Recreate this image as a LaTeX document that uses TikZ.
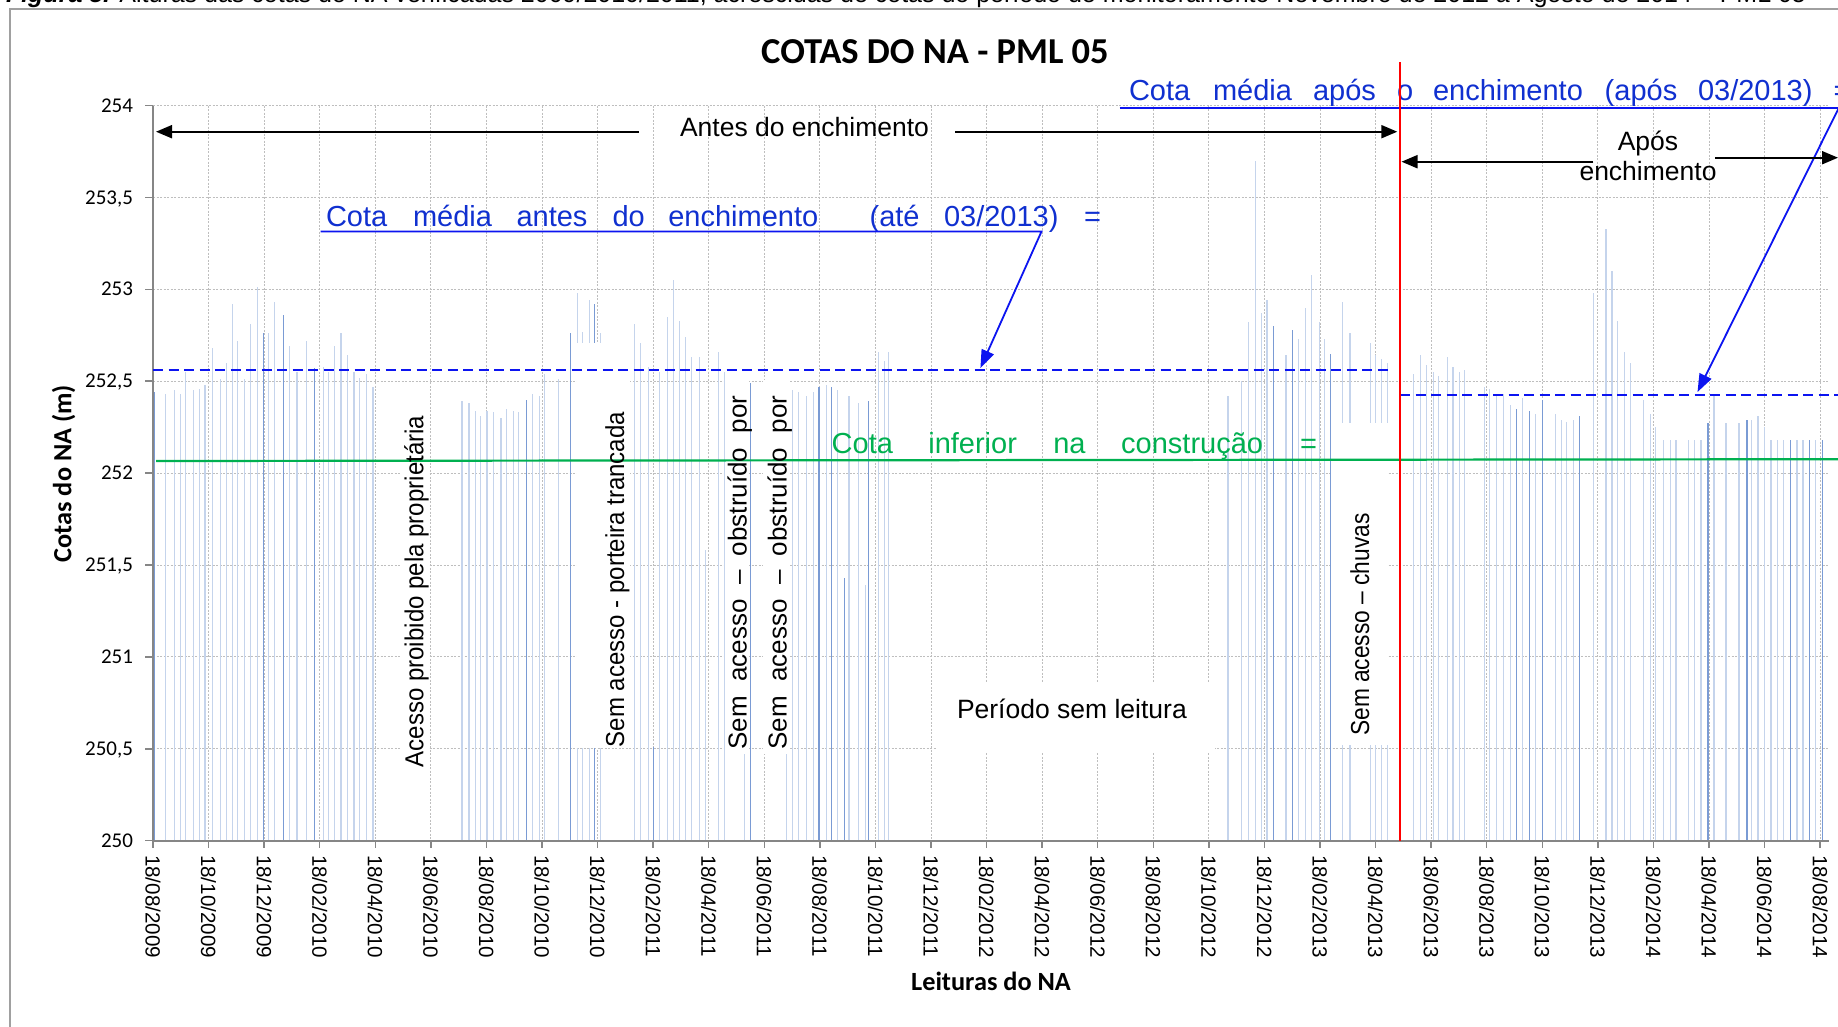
\documentclass[tikz,border=0pt]{standalone}
\usepackage{fontspec}
\usepackage{graphicx}
\setmainfont{Liberation Sans}
\newfontfamily\calib{Carlito}
\usetikzlibrary{arrows.meta}

\definecolor{gridc}{RGB}{190,190,190}
\definecolor{axisc}{RGB}{134,134,134}
\definecolor{framec}{RGB}{160,160,160}
\definecolor{barL}{RGB}{197,212,236}
\definecolor{barD}{RGB}{122,155,212}
\definecolor{txtblue}{RGB}{16,48,208}
\definecolor{lineblue}{RGB}{12,20,240}
\definecolor{grn}{RGB}{0,176,80}

\newcommand\fNote{\fontsize{26.5pt}{30pt}\selectfont}
\newcommand\fVert{\fontsize{26pt}{30pt}\selectfont}
\newcommand\fBig{\fontsize{29pt}{33pt}\selectfont}
\newcommand\fDate{\fontsize{20.6pt}{24pt}\selectfont}
\newcommand\fTick{\calib\fontsize{21pt}{24pt}\selectfont}
\newcommand\fTitle{\calib\bfseries\fontsize{36.5pt}{40pt}\selectfont}
\newcommand\fAxis{\calib\bfseries\fontsize{26.3pt}{30pt}\selectfont}
\newcommand\fCap{\fontsize{20pt}{24pt}\selectfont}

\begin{document}
\begin{tikzpicture}[x=1pt,y=-1pt,
  gridl/.style={draw=gridc, line width=0.9pt, dash pattern=on 2pt off 1.5pt},
  barl/.style={draw=barL, line width=1.3pt},
  bard/.style={draw=barD, line width=1.3pt},
  avg/.style={draw=lineblue, line width=2pt, dash pattern=on 10pt off 5.5pt},
  blkarrow/.style={draw=black, line width=2pt, -{Triangle[length=16pt,width=13pt]}},
  bluarrow/.style={draw=lineblue, line width=1.8pt, -{Triangle[length=18pt,width=13pt]}},
  wbox/.style={fill=white},
  txt/.style={inner sep=0pt, outer sep=0pt},
  bw/.style={txt, font=\fBig, text=txtblue, anchor=base west},
  gw/.style={txt, font=\fBig, text=grn, anchor=base west},
  note/.style={txt, font=\fNote},
  vnote/.style={txt, font=\fVert, rotate=90, anchor=base},
  datelab/.style={txt, font=\fDate, rotate=-90, anchor=west},
  ticklab/.style={txt, font=\fTick, anchor=base east},
]
\useasboundingbox (0,0) rectangle (1838,1026);
\fill[white] (0,0) rectangle (1838,1026);

% caption (cut off at the top)
\node[txt, anchor=base west, font=\fCap] (caption) at (6,2)
  {\resizebox{1800pt}{!}{\textbf{\textit{Figura 5.}} Alturas das cotas do NA verificadas 2009/2010/2011, acrescidas de cotas do período de monitoramento Novembro de 2012 a Agosto de 2014 -- PML 05}};

% frame
\draw[framec, line width=1.5pt] (10,1030) -- (10,9) -- (1842,9);

% grid
\foreach \k in {1,...,8}
  \draw[gridl] (153,{840.7-\k*91.9}) -- (1829,{840.7-\k*91.9});
\foreach \i in {1,...,30}
  \draw[gridl] ({153+55.57*\i},105.5) -- ({153+55.57*\i},840.7);

% bars (light)
\foreach \X/\V in {165.3/252.43, 174.3/252.45, 180.3/252.43, 185.7/252.55, 193.3/252.45, 199.3/252.46, 205/252.48, 212.3/252.68, 220.3/252.51, 226.7/252.60, 232.7/252.92, 237.7/252.72, 244.3/252.51, 250.3/252.81, 257.3/253.01, 268.3/252.76, 274.7/252.93, 289.3/252.69, 297/252.55, 306.7/252.72, 323.3/252.58, 328.3/252.55, 334.3/252.69, 341/252.76, 347.7/252.64, 354/252.55, 359.3/252.52, 366.7/252.54, 373/252.47,
462/252.39, 469/252.38, 475.3/252.34, 480.3/252.31, 487/252.34, 493.3/252.33, 501/252.30, 506.7/252.35, 513.3/252.34, 518.3/252.33, 532.3/252.43, 539.3/252.42, 544.3/252.54, 558.3/252.51, 577.3/252.98, 582.7/252.77, 589.3/252.94, 600.7/252.76,
634.3/252.81, 640.3/252.71, 648.3/252.58, 659.7/252.55, 667.3/252.85, 673.3/253.05, 679.3/252.83, 685.3/252.74, 691.3/252.63, 699.3/252.63, 705.7/251.58, 718.3/252.66, 724.3/252.55, 744.3/250.49, 786.7/252.49, 792.7/252.45, 798.3/252.44, 806.7/252.42, 813.3/252.44, 826.7/252.48, 837.3/252.45, 849/252.42, 858.7/252.38, 865.7/251.39, 878.3/252.66, 884.3/252.61, 888.3/252.66,
1228/252.42, 1241.2/252.5, 1248.7/252.82, 1255.3/253.70, 1261.4/252.87, 1267.1/252.94, 1285.9/252.64, 1298.6/252.73, 1305.6/252.90, 1311.3/253.08, 1319.3/252.82, 1324.5/252.73, 1342.4/252.93, 1349.9/252.76, 1370.6/252.71, 1375.3/252.64, 1381.4/252.62, 1387.5/252.60,
1413.4/252.54, 1420.5/252.64, 1426.6/252.59, 1433.2/252.55, 1438.4/252.53, 1447.3/252.63, 1452.9/252.58, 1459.5/252.55, 1464.2/252.56, 1484.5/252.47, 1489.6/252.46, 1496.2/252.42, 1503.3/252.43, 1510.4/252.37, 1522.6/252.41, 1535.3/252.32, 1555.5/252.32, 1561.2/252.29, 1566.8/252.28, 1573.4/252.29, 1593.2/252.98, 1605.9/253.33, 1612/253.10, 1617.6/252.83, 1624.2/252.66, 1630.8/252.60, 1643.5/252.40, 1650.6/252.32, 1655.8/252.25, 1663.8/252.18, 1670.4/252.18, 1676/252.18, 1688.7/252.18, 1694.8/252.18, 1700.9/252.18, 1714.1/252.43, 1725.9/252.27, 1739.1/252.27, 1751.8/252.29, 1757.9/252.31, 1764.5/252.25, 1771.1/252.18, 1777.6/252.18, 1783.8/252.18, 1797/252.18, 1803.1/252.18, 1815.8/252.18}
  \draw[barl] (\X,840.7) -- (\X,{840.7-(\V-250)*183.8});
% bars (dark)
\foreach \X/\V in {154.7/252.44, 263.7/252.76, 283.7/252.86, 314.3/252.57, 526.3/252.40, 570.3/252.76, 594.7/252.92, 653.7/250.51, 750.3/252.49, 819/252.47, 831.3/252.47, 844.3/251.43, 868.7/252.39, 1273.6/252.80, 1292.5/252.78, 1330.6/252.65, 1516.5/252.35, 1529.2/252.34, 1542.4/252.40, 1579.5/252.31, 1708/252.27, 1747.1/252.29, 1790.8/252.18, 1809.2/252.18, 1822.4/252.18}
  \draw[bard] (\X,840.7) -- (\X,{840.7-(\V-250)*183.8});

% white text boxes
\fill[wbox] (400,405) rectangle (428,772);
\fill[wbox] (577,343) rectangle (630,748);
\fill[wbox] (725,380) rectangle (749,754);
\fill[wbox] (763,380) rectangle (790,754);
\fill[wbox] (936,683) rectangle (1215,752);
\fill[wbox] (1332,423) rectangle (1388,745);

% axes
\draw[axisc, line width=2pt] (153,105.5) -- (153,840.7);
\foreach \k in {0,...,8}
  \draw[axisc, line width=1.5pt] (145,{840.7-\k*91.9}) -- (153,{840.7-\k*91.9});
\draw[axisc, line width=2.2pt] (152,840.7) -- (1829,840.7);
\foreach \i in {0,...,30}
  \draw[axisc, line width=1.5pt] ({153+55.57*\i},840.7) -- ({153+55.57*\i},848);

% reference lines
\draw[avg] (153,370.4) -- (1392,370.4);
\draw[avg] (1400,394.8) -- (1838,394.8);
\draw[grn, line width=2.2pt] (156,461) -- (1838,459.2);

% title and axis titles
\node[txt, anchor=base, font=\fTitle] (title) at (935,63.3) {COTAS DO NA - PML 05};
\node[txt, anchor=base, rotate=90, font=\fAxis] (ytitle) at (71.4,473.6) {Cotas do NA (m)};
\node[txt, anchor=base, font=\fAxis] (xtitle) at (991,990.5) {Leituras do NA};

% y tick labels
\node[ticklab] (y0) at (133,{840.7+6.6}) {250};
\node[ticklab] (y1) at (133,{748.8+6.6}) {250,5};
\node[ticklab] (y2) at (133,{656.9+6.6}) {251};
\node[ticklab] (y3) at (133,{565.0+6.6}) {251,5};
\node[ticklab] (y4) at (133,{473.1+6.6}) {252};
\node[ticklab] (y5) at (133,{381.2+6.6}) {252,5};
\node[ticklab] (y6) at (133,{289.3+6.6}) {253};
\node[ticklab] (y7) at (133,{197.4+6.6}) {253,5};
\node[ticklab] (y8) at (133,{105.5+6.6}) {254};

% x tick labels
\foreach \d [count=\i from 0] in {18/08/2009,18/10/2009,18/12/2009,18/02/2010,18/04/2010,18/06/2010,18/08/2010,18/10/2010,18/12/2010,18/02/2011,18/04/2011,18/06/2011,18/08/2011,18/10/2011,18/12/2011,18/02/2012,18/04/2012,18/06/2012,18/08/2012,18/10/2012,18/12/2012,18/02/2013,18/04/2013,18/06/2013,18/08/2013,18/10/2013,18/12/2013,18/02/2014,18/04/2014,18/06/2014,18/08/2014}
  \node[datelab] (d\i) at ({153+55.57*\i},855) {\d};

% blue text: before filling
\node[bw] (bA1) at (326,226.5) {Cota};
\node[bw] (bA2) at (413,226.5) {média};
\node[bw] (bA3) at (516.5,226.5) {antes};
\node[bw] (bA4) at (612.5,226.5) {do};
\node[bw] (bA5) at (668.3,226.5) {enchimento};
\node[bw] (bA6) at (869.6,226.5) {(até};
\node[bw] (bA7) at (944,226.5) {03/2013)};
\node[bw] (bA8) at (1084,226.5) {=};
\coordinate (uA1) at (320.5,231.5);
\coordinate (uA2) at (1041.5,231.5);
\coordinate (tipA) at (980.4,368);
\draw[bluarrow] (uA1) -- (uA2) -- (tipA);

% blue text: after filling
\node[bw] (bB1) at (1129,100.5) {Cota};
\node[bw] (bB2) at (1213,100.5) {média};
\node[bw] (bB3) at (1313,100.5) {após};
\node[bw] (bB4) at (1397,100.5) {o};
\node[bw] (bB5) at (1433,100.5) {enchimento};
\node[bw] (bB6) at (1604.7,100.5) {(após};
\node[bw] (bB7) at (1698,100.5) {03/2013)};
\node[bw] (bB8) at (1833.6,100.5) {=};
\coordinate (uB1) at (1119.5,107.5);
\coordinate (uB2) at (1839,107.5);
\coordinate (tipB) at (1697.5,392);
\draw[draw=lineblue, line width=2pt] (uB1) -- (uB2);
\draw[bluarrow] (uB2) -- (tipB);

% green text
\node[gw] (gC1) at (831.7,453) {Cota};
\node[gw] (gC2) at (928.3,453) {inferior};
\node[gw] (gC3) at (1053.3,453) {na};
\node[gw] (gC4) at (1121.2,453) {construção};
\node[gw] (gC5) at (1300,453) {=};

% period arrows and labels
\node[note, anchor=base west] (antes) at (680,136.7) {Antes do enchimento};
\coordinate (antesL0) at (639,131.7);
\coordinate (antesL1) at (156,131.7);
\coordinate (antesR0) at (955.4,131.7);
\coordinate (antesR1) at (1397.3,131.7);
\draw[blkarrow] (antesL0) -- (antesL1);
\draw[blkarrow] (antesR0) -- (antesR1);

\node[note, anchor=base] (apos1) at (1648,150) {Após};
\node[note, anchor=base] (apos2) at (1648,180) {enchimento};
\coordinate (aposL0) at (1593.4,161.7);
\coordinate (aposL1) at (1401.5,161.7);
\coordinate (aposR0) at (1715.2,157.7);
\coordinate (aposR1) at (1838,157.7);
\draw[blkarrow] (aposL0) -- (aposL1);
\draw[blkarrow] (aposR0) -- (aposR1);

% vertical notes
\node[vnote] (n1) at (423.3,591.5) {\scalebox{0.925}[1]{Acesso proibido pela proprietária}};
\node[vnote] (n2) at (624,579.6) {\scalebox{0.924}[1]{Sem acesso - porteira trancada}};
\node[vnote] (n3) at (746.7,572.6) {\makebox[354pt][s]{Sem acesso – obstruído por}};
\node[vnote] (n4) at (786.7,572.6) {\makebox[354pt][s]{Sem acesso – obstruído por}};
\node[vnote] (n5) at (1369,624.5) {\scalebox{0.874}[1]{Sem acesso – chuvas}};
\node[note, anchor=base west] (periodo) at (957,718.5) {Período sem leitura};

% red line (filling date)
\draw[red, line width=2pt] (1400,62) -- (1400,840.7);
\end{tikzpicture}
\end{document}
